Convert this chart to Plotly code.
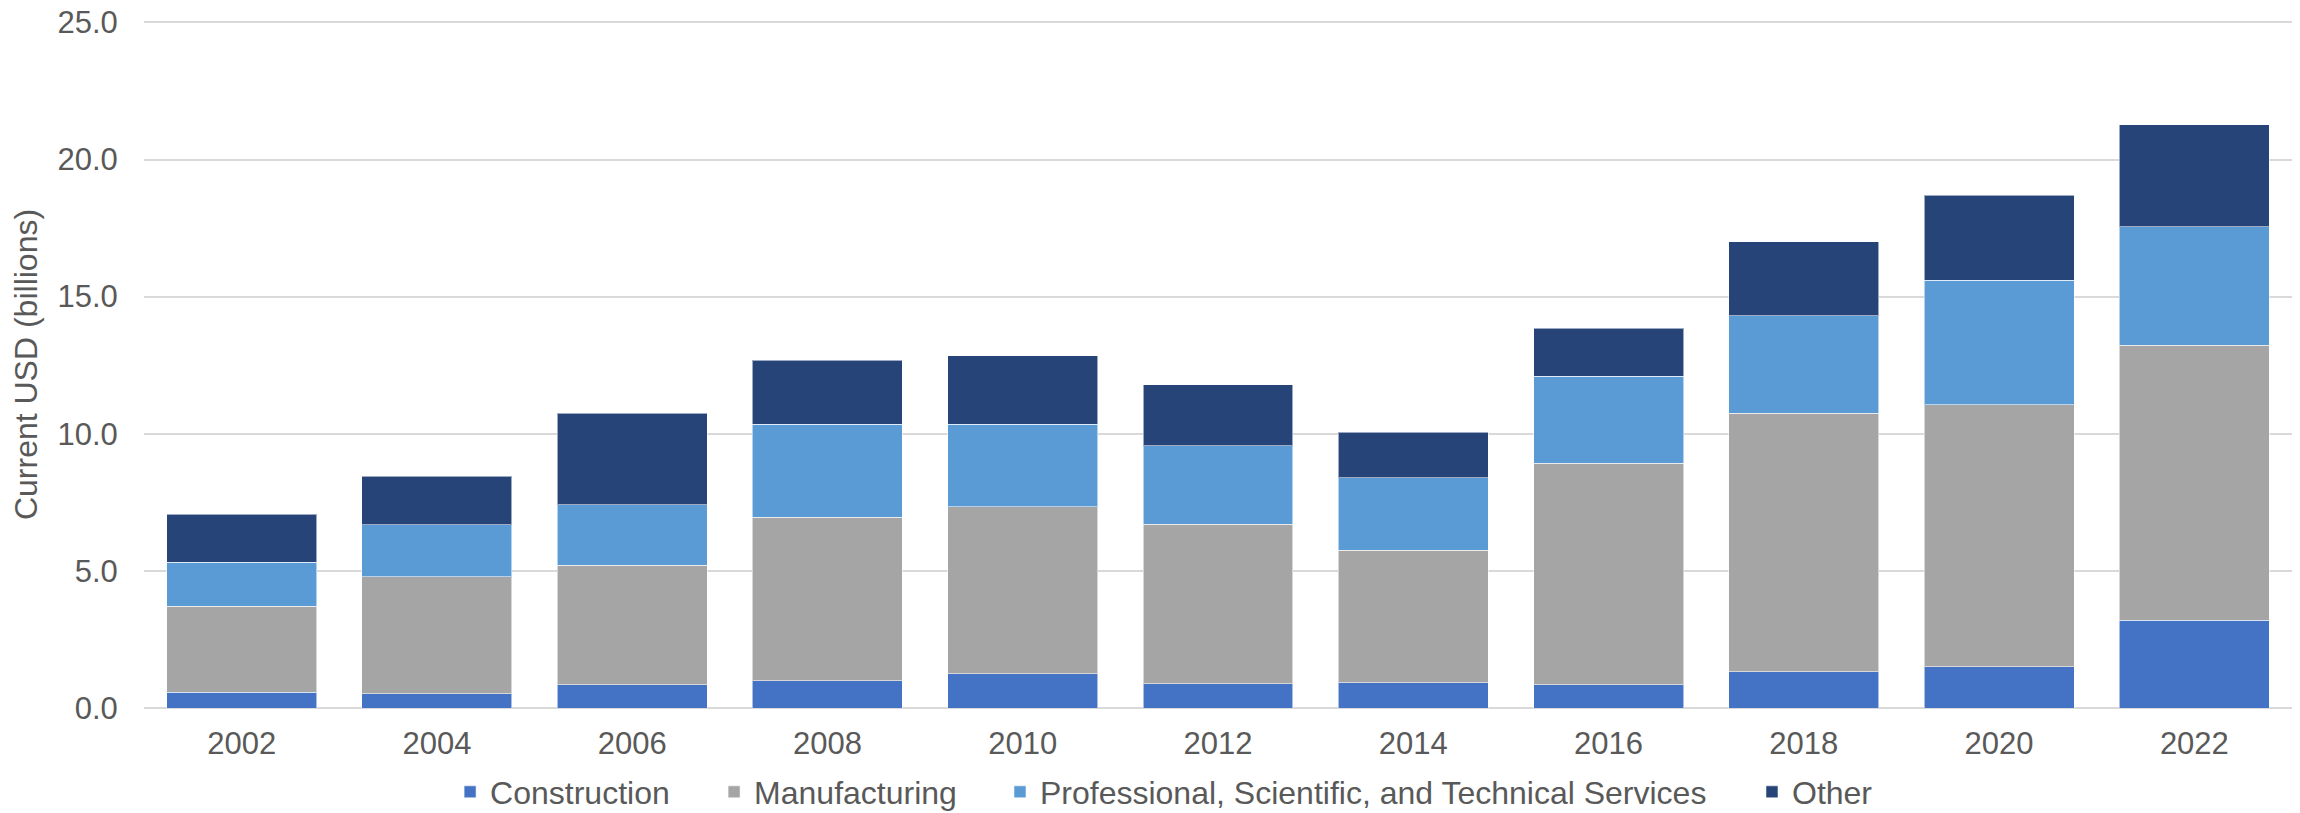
import plotly.graph_objects as go

years = ["2002", "2004", "2006", "2008", "2010", "2012", "2014", "2016", "2018", "2020", "2022"]
construction = [0.57, 0.52, 0.85, 1.00, 1.25, 0.89, 0.92, 0.85, 1.32, 1.51, 3.20]
manufacturing = [3.14, 4.26, 4.35, 5.95, 6.09, 5.81, 4.84, 8.07, 9.42, 9.55, 10.03]
professional = [1.61, 1.90, 2.21, 3.40, 3.01, 2.86, 2.64, 3.17, 3.56, 4.54, 4.32]
other = [1.74, 1.77, 3.33, 2.33, 2.49, 2.23, 1.66, 1.75, 2.71, 3.09, 3.72]

series_names = ["Construction", "Manufacturing",
                "Professional, Scientific, and Technical Services", "Other"]
series_values = [construction, manufacturing, professional, other]
series_colors = ["#4472C4", "#A5A5A5", "#5B9BD5", "#264478"]
legend_ids = ["legend", "legend2", "legend3", "legend4"]
legend_x = [0.1425, 0.2654, 0.3985, 0.7486]

FONT = "Arial, Liberation Sans, sans-serif"
GREY = "#595959"

fig = go.Figure()
for name, vals, color, lid in zip(series_names, series_values, series_colors, legend_ids):
    fig.add_trace(go.Bar(
        x=years, y=vals, name=name, legend=lid,
        marker=dict(color=color, line=dict(color="rgba(255,255,255,0.55)", width=1)),
    ))

legend_common = dict(
    orientation="h", xanchor="left", y=-0.1223, yanchor="middle",
    font=dict(family=FONT, size=32, color=GREY),
    bgcolor="rgba(0,0,0,0)",
)

layout_legends = {}
for lid, lx in zip(legend_ids, legend_x):
    layout_legends[lid] = dict(legend_common, x=lx)

fig.update_layout(
    barmode="stack",
    bargap=0.232,
    width=2300, height=813,
    margin=dict(l=144, r=8, t=21, b=105, autoexpand=False),
    plot_bgcolor="white", paper_bgcolor="white",
    font=dict(family=FONT, size=31, color=GREY),
    showlegend=True,
    xaxis=dict(
        type="category", automargin=False,
        showgrid=False, zeroline=False,
        showline=False,
        ticks="outside", ticklen=8, tickcolor="rgba(0,0,0,0)",
        tickfont=dict(family=FONT, size=31, color=GREY),
    ),
    yaxis=dict(
        range=[0, 25.05], tickvals=[0, 5, 10, 15, 20, 25], tickformat=".1f",
        automargin=False, ticklabeloverflow="allow",
        showgrid=True, gridcolor="#D9D9D9", gridwidth=2,
        zeroline=True, zerolinecolor="#D9D9D9", zerolinewidth=2,
        showline=False,
        ticks="outside", ticklen=19, tickcolor="rgba(0,0,0,0)",
        tickfont=dict(family=FONT, size=31, color=GREY),
        title=dict(text="Current USD (billions)", standoff=10,
                   font=dict(family=FONT, size=32, color=GREY)),
    ),
    **layout_legends,
)

# Remove the browser's default 8px page margin so the figure fills the window exactly.
fig.write_html(
    "out.html",
    config={"displayModeBar": False},
    post_script="document.documentElement.style.margin='0';document.body.style.margin='0';document.body.style.overflow='hidden';",
)
